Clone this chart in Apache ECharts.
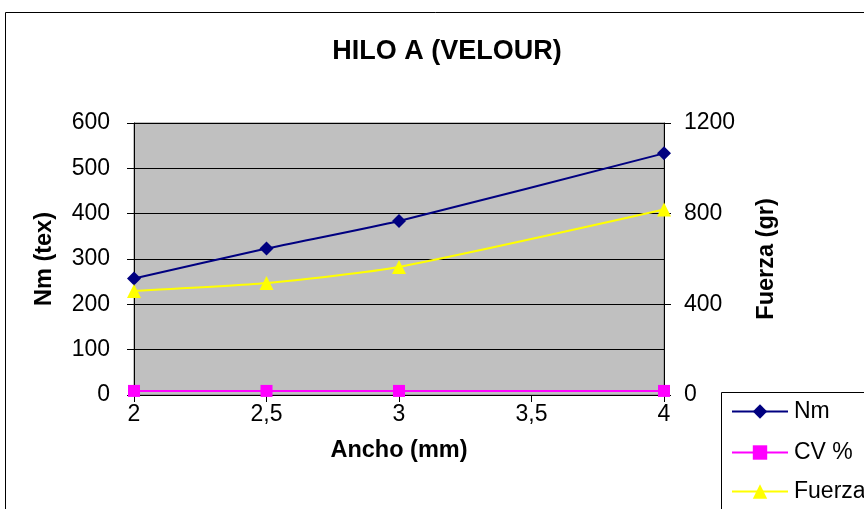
<!DOCTYPE html>
<html>
<head>
<meta charset="utf-8">
<script src="https://cdn.jsdelivr.net/npm/echarts@6/dist/echarts.min.js"></script>
<style>
  html, body { margin: 0; padding: 0; background: #fff; }
  #chart { width: 864px; height: 509px; }
</style>
</head>
<body>
<div id="chart"></div>
<script>
// Ancho (mm) measured for each sample
const ancho = [2, 2.5, 3, 4];
// Series values
const nm = [257, 323, 384, 533];
const cv = [9, 9, 9, 9];
const fuerza = [459, 494, 565, 818];
// Axis ranges
const leftTicks = { min: 0, max: 600, interval: 100 };
const rightTicks = { min: 0, max: 1200, interval: 400 };
const xTicks = { min: 2, max: 4, interval: 0.5 };
const seriesNames = ['Nm', 'CV %', 'Fuerza'];

const font = 'Arial, "Liberation Sans", sans-serif';
const pairs = (xs, ys) => xs.map((x, i) => [x, ys[i]]);

// one legend block per series, stacked inside a framed box
const legendRowTop = [400, 441, 480];
const legends = seriesNames.map((name, i) => ({
  orient: 'vertical',
  left: 731, top: legendRowTop[i],
  padding: 0,
  itemWidth: 56, itemHeight: 18,
  textStyle: { fontFamily: font, fontSize: 23, color: '#000', padding: [0, 0, 0, 1] },
  data: [name]
}));

const chart = echarts.init(document.getElementById('chart'), null, { renderer: 'canvas' });
chart.setOption({
  animation: false,
  backgroundColor: '#ffffff',
  textStyle: { fontFamily: font },
  graphic: [{
    type: 'rect',
    shape: { x: 5.5, y: 12.5, width: 900, height: 600 },
    style: { fill: 'none', stroke: '#000', lineWidth: 1 },
    z: -1
  }, {
    type: 'rect',
    shape: { x: 721.5, y: 392.5, width: 200, height: 200 },
    style: { fill: '#fff', stroke: '#000', lineWidth: 1 },
    z: 0
  }],
  title: {
    text: 'HILO A (VELOUR)',
    left: 442, top: 33, textAlign: 'center',
    textStyle: { fontFamily: font, fontSize: 27, fontWeight: 'bold', color: '#000' }
  },
  legend: legends,
  grid: {
    left: 134, right: 200, top: 123, bottom: 114,
    show: true, backgroundColor: '#C0C0C0', borderColor: '#808080', borderWidth: 1
  },
  xAxis: {
    type: 'value', min: xTicks.min, max: xTicks.max, interval: xTicks.interval,
    name: 'Ancho (mm)', nameLocation: 'middle', nameGap: 44,
    nameTextStyle: { fontFamily: font, fontSize: 23.5, fontWeight: 'bold', color: '#000' },
    axisLine: { show: true, lineStyle: { color: '#000', width: 1 } },
    axisTick: { show: true, inside: false, length: 7, lineStyle: { color: '#000' } },
    axisLabel: {
      fontFamily: font, fontSize: 23, color: '#000', margin: 8,
      formatter: v => String(v).replace('.', ',')
    },
    splitLine: { show: false }
  },
  yAxis: [{
    type: 'value', min: leftTicks.min, max: leftTicks.max, interval: leftTicks.interval,
    name: 'Nm (tex)', nameLocation: 'middle', nameGap: 77, nameRotate: 90,
    nameTextStyle: { fontFamily: font, fontSize: 23.5, fontWeight: 'bold', color: '#000' },
    axisLine: { show: true, lineStyle: { color: '#000', width: 1 } },
    axisTick: { show: true, length: 7, lineStyle: { color: '#000' } },
    axisLabel: { fontFamily: font, fontSize: 23, color: '#000', margin: 24 },
    splitLine: { show: true, lineStyle: { color: '#000', width: 1 } }
  }, {
    type: 'value', position: 'right',
    min: rightTicks.min, max: rightTicks.max, interval: rightTicks.interval,
    name: 'Fuerza (gr)', nameLocation: 'middle', nameGap: 91, nameRotate: 90,
    nameTextStyle: { fontFamily: font, fontSize: 23.5, fontWeight: 'bold', color: '#000' },
    axisLine: { show: true, lineStyle: { color: '#000', width: 1 } },
    axisTick: { show: true, length: 7, lineStyle: { color: '#000' } },
    axisLabel: { fontFamily: font, fontSize: 23, color: '#000', margin: 20, formatter: v => String(v) },
    splitLine: { show: false }
  }],
  series: [{
    name: seriesNames[0], type: 'line', yAxisIndex: 0, smooth: 0.2,
    data: pairs(ancho, nm),
    symbol: 'diamond', symbolSize: 14,
    lineStyle: { color: '#000080', width: 2 },
    itemStyle: { color: '#000080' }
  }, {
    name: seriesNames[1], type: 'line', yAxisIndex: 0, smooth: 0.2,
    data: pairs(ancho, cv),
    symbol: 'rect', symbolSize: 12,
    lineStyle: { color: '#FF00FF', width: 2 },
    itemStyle: { color: '#FF00FF' }
  }, {
    name: seriesNames[2], type: 'line', yAxisIndex: 1, smooth: 0.2,
    data: pairs(ancho, fuerza),
    symbol: 'triangle', symbolSize: 14,
    lineStyle: { color: '#FFFF00', width: 2 },
    itemStyle: { color: '#FFFF00' }
  }]
});
</script>
</body>
</html>
